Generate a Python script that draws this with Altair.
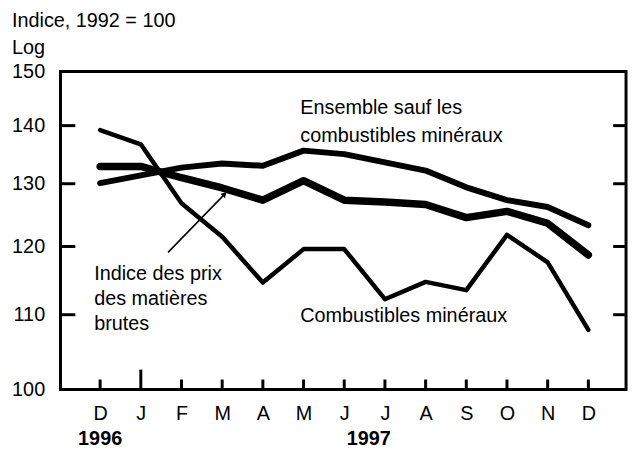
import json
import altair as alt
import pandas as pd

# ---- data ----
months = ["D", "J", "F", "M", "A", "M", "J", "J", "A", "S", "O", "N", "D"]
indice = [132.9, 132.9, 131.0, 129.3, 127.3, 130.5, 127.3, 127.0, 126.6, 124.5, 125.5, 123.6, 118.7]
ensemble = [130.1, 131.4, 132.7, 133.4, 133.0, 135.6, 135.0, 133.6, 132.2, 129.4, 127.3, 126.2, 123.3]
combustibles = [139.2, 136.7, 126.8, 121.5, 114.6, 119.6, 119.6, 112.2, 114.7, 113.5, 121.8, 117.6, 107.9]
y_ticks = [100, 110, 120, 130, 140, 150]
years = ["1996", "1997"]
year_pos = [0, 6.6]

series_names = ["Indice des prix des matières brutes",
                "Ensemble sauf les combustibles minéraux",
                "Combustibles minéraux"]

W, H = 571, 321
FONT = "Liberation Sans"
FS = 20

rows = []
for name, vals in zip(series_names, [indice, ensemble, combustibles]):
    for i, v in enumerate(vals):
        rows.append({"i": i, "v": v, "serie": name})
df = pd.DataFrame(rows)

xscale = alt.Scale(domain=[-0.974, 12.926], nice=False, zero=False)
yscale = alt.Scale(type="log", domain=[100, 150], nice=False, zero=False)

label_expr = json.dumps(months) + "[datum.value]"
xaxis = alt.Axis(values=list(range(len(months))), labelExpr=label_expr,
                 tickSize=0, domain=False, grid=False, labelPadding=14,
                 labelFont=FONT, labelFontSize=FS, labelColor="black", title=None)
yaxis = alt.Axis(values=y_ticks, format="d", tickSize=0, domain=False, grid=False,
                 labelPadding=16, labelFont=FONT, labelFontSize=FS,
                 labelColor="black", title=None)


def X(f):
    return alt.X(f, scale=xscale, axis=xaxis)


def Y(f):
    return alt.Y(f, scale=yscale, axis=yaxis)


lines = alt.Chart(df).mark_line(color="black", strokeCap="round", strokeJoin="round").encode(
    x=X("i:Q"),
    y=Y("v:Q"),
    strokeWidth=alt.StrokeWidth("serie:N", scale=alt.Scale(domain=series_names, range=[7.5, 4.5, 1.5]),
                                legend=None),
    detail="serie:N",
)

tick_df = pd.DataFrame({"v": y_ticks[1:-1]})
left_ticks = alt.Chart(tick_df).mark_rule(color="black", strokeWidth=3).encode(
    y=Y("v:Q"), x=alt.value(0), x2=alt.value(15))
right_ticks = alt.Chart(tick_df).mark_rule(color="black", strokeWidth=3).encode(
    y=Y("v:Q"), x=alt.value(W - 13), x2=alt.value(W))

xt_df = pd.DataFrame({"i": [k for k in range(len(months)) if k != 1]})
bottom_ticks = alt.Chart(xt_df).mark_rule(color="black", strokeWidth=3).encode(
    x=X("i:Q"), y=alt.value(H), y2=alt.value(H - 10))
yr_tick = alt.Chart(pd.DataFrame({"i": [1]})).mark_rule(color="black", strokeWidth=3).encode(
    x=X("i:Q"), y=alt.value(H), y2=alt.value(H - 20))

year_labels = alt.Chart(pd.DataFrame({"i": year_pos, "t": years})).mark_text(
    font=FONT, fontSize=FS, fontWeight="bold", color="black", baseline="middle", align="center"
).encode(x=X("i:Q"), y=alt.value(H + 50), text="t:N")

ann_text = ["Ensemble sauf les", "combustibles minéraux",
            "Indice des prix", "des matières", "brutes",
            "Combustibles minéraux"]
ann_x = [4.92, 4.92, -0.146, -0.146, -0.146, 4.92]
ann_y = [143.1, 138.1, 115.9, 112.2, 108.7, 109.8]
annotations = alt.Chart(pd.DataFrame({"x": ann_x, "y": ann_y, "t": ann_text})).mark_text(
    font=FONT, fontSize=FS, color="black", align="left", baseline="middle"
).encode(x=X("x:Q"), y=Y("y:Q"), text="t:N")

arrow_df = pd.DataFrame({"x": [1.67], "y": [119.1], "x2": [3.02], "y2": [128.0]})
arrow_line = alt.Chart(arrow_df).mark_rule(color="black", strokeWidth=1.5).encode(
    x=X("x:Q"), y=Y("y:Q"), x2="x2:Q", y2="y2:Q")
arrow_head = alt.Chart(pd.DataFrame({"x": [3.06], "y": [128.3]})).mark_point(
    shape="triangle-up", filled=True, color="black", opacity=1, size=40, angle=45
).encode(x=X("x:Q"), y=Y("y:Q"))

title1 = alt.Chart(pd.DataFrame({"a": [0]})).mark_text(
    font=FONT, fontSize=FS, color="black", align="left", baseline="middle", text="Indice, 1992 = 100"
).encode(x=alt.value(-49), y=alt.value(-51))
title2 = alt.Chart(pd.DataFrame({"a": [0]})).mark_text(
    font=FONT, fontSize=FS, color="black", align="left", baseline="middle", text="Log"
).encode(x=alt.value(-49), y=alt.value(-24))

chart = alt.layer(
    lines, left_ticks, right_ticks, bottom_ticks, yr_tick, year_labels,
    annotations, arrow_line, arrow_head, title1, title2
).properties(
    width=W, height=H,
    padding={"left": 53, "top": 62, "right": 3, "bottom": 58},
    autosize=alt.AutoSizeParams(type="none"),
    background="white",
).configure_view(stroke="black", strokeWidth=3)

chart.save("out.html", embed_options={"renderer": "svg", "actions": False})
